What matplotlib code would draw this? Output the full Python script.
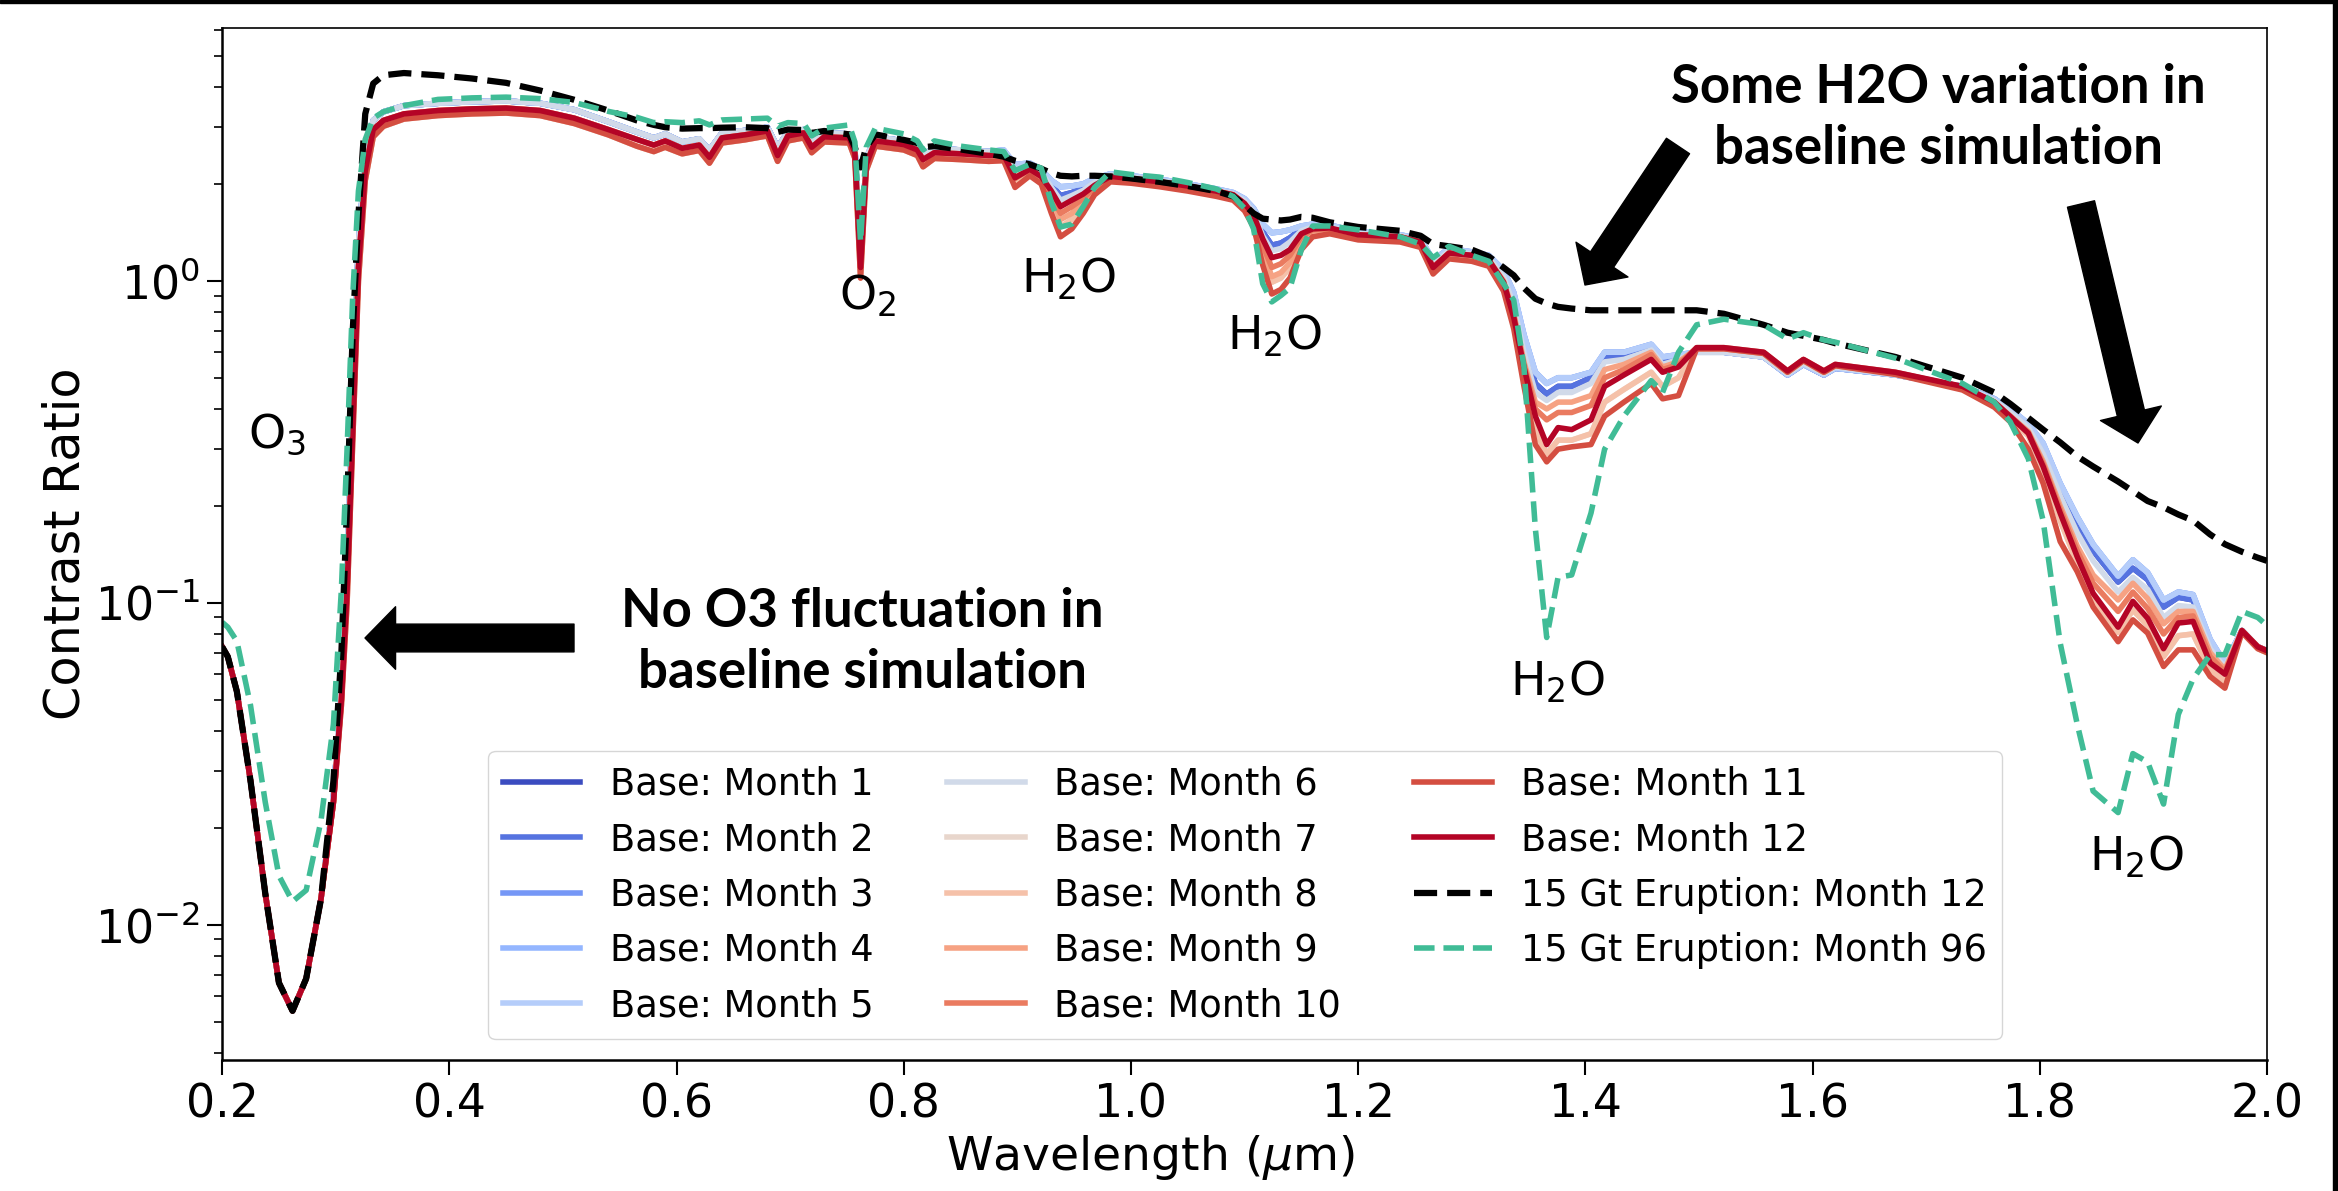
import numpy as np
import matplotlib
matplotlib.use("Agg")
import matplotlib.pyplot as plt
from matplotlib.patches import Rectangle

# wavelength grid (um): UV-visible part and near-IR part
wl_vis = [0.200, 0.205, 0.213, 0.225, 0.238, 0.250, 0.262, 0.274, 0.287, 0.298,
          0.305, 0.310, 0.315, 0.320, 0.326, 0.333, 0.342, 0.360, 0.390, 0.420,
          0.450, 0.480, 0.510, 0.540, 0.565, 0.580, 0.590, 0.605, 0.620, 0.629,
          0.640, 0.660, 0.680, 0.689, 0.698, 0.712, 0.719, 0.730, 0.752, 0.757,
          0.762, 0.767, 0.775, 0.800, 0.812, 0.817, 0.827, 0.850, 0.875]
wl_nir = [0.888, 0.898, 0.911, 0.921, 0.930, 0.938, 0.948, 0.958, 0.968, 0.982,
          1.000, 1.025, 1.050, 1.075, 1.090, 1.100, 1.108, 1.116, 1.124, 1.132,
          1.140, 1.150, 1.160, 1.175, 1.200, 1.237, 1.255, 1.266, 1.280, 1.300,
          1.315, 1.328, 1.337, 1.346, 1.356, 1.366, 1.376, 1.388, 1.405, 1.417,
          1.434, 1.458, 1.468, 1.482, 1.498, 1.522, 1.557, 1.578, 1.592, 1.610,
          1.620, 1.673, 1.732, 1.760, 1.774, 1.790, 1.803, 1.818, 1.833, 1.847,
          1.869, 1.882, 1.895, 1.909, 1.922, 1.935, 1.950, 1.963, 1.978, 1.992,
          2.000]

# baseline months, UV-visible (months overlap closely here)
vis_cool = [0.073, 0.068, 0.053, 0.028, 0.0125, 0.0066, 0.0054, 0.0068, 0.012, 0.025,
            0.055, 0.13, 0.45, 1.3, 2.4, 3.15, 3.35, 3.5, 3.56, 3.6,
            3.62, 3.56, 3.4, 3.12, 2.9, 2.78, 2.86, 2.7, 2.76, 2.55,
            2.88, 2.93, 3.0, 2.6, 2.9, 2.95, 2.72, 2.88, 2.86, 2.6,
            1.2, 2.4, 2.8, 2.72, 2.62, 2.48, 2.58, 2.55, 2.52]
vis_mid = [0.073, 0.068, 0.053, 0.028, 0.0125, 0.0066, 0.0054, 0.0068, 0.012, 0.024,
           0.05, 0.11, 0.35, 1.1, 2.2, 2.95, 3.15, 3.3, 3.38, 3.42,
           3.44, 3.38, 3.2, 2.95, 2.75, 2.64, 2.72, 2.58, 2.64, 2.42,
           2.78, 2.84, 2.92, 2.45, 2.82, 2.88, 2.6, 2.8, 2.78, 2.5,
           1.1, 2.3, 2.72, 2.65, 2.55, 2.38, 2.5, 2.48, 2.45]
vis_low = [0.073, 0.068, 0.053, 0.028, 0.0125, 0.0066, 0.0054, 0.0068, 0.012, 0.024,
           0.048, 0.1, 0.32, 1.0, 2.05, 2.8, 3.02, 3.18, 3.26, 3.3,
           3.32, 3.26, 3.08, 2.84, 2.62, 2.52, 2.6, 2.48, 2.54, 2.32,
           2.68, 2.74, 2.82, 2.35, 2.72, 2.78, 2.5, 2.7, 2.68, 2.4,
           1.02, 2.2, 2.62, 2.55, 2.45, 2.26, 2.4, 2.38, 2.35]

# baseline months, near-IR (water bands differ month to month)
nir_m345 = [2.55, 2.3, 2.32, 2.22, 2.05, 1.96, 1.97, 2.0, 2.08, 2.15,
            2.12, 2.07, 2.0, 1.93, 1.88, 1.8, 1.68, 1.5, 1.41, 1.42,
            1.44, 1.48, 1.5, 1.49, 1.42, 1.39, 1.35, 1.16, 1.26, 1.23,
            1.2, 1.08, 0.92, 0.68, 0.52, 0.48, 0.5, 0.5, 0.52, 0.6,
            0.6, 0.635, 0.58, 0.59, 0.6, 0.6, 0.58, 0.51, 0.55, 0.51,
            0.535, 0.51, 0.47, 0.43, 0.4, 0.36, 0.313, 0.235, 0.185, 0.152,
            0.121, 0.136, 0.124, 0.102, 0.108, 0.106, 0.077, 0.065, 0.082, 0.073,
            0.071]
nir_m12 = [2.53, 2.26, 2.3, 2.19, 1.98, 1.84, 1.88, 1.94, 2.04, 2.14,
           2.11, 2.06, 1.99, 1.92, 1.87, 1.78, 1.65, 1.42, 1.29, 1.31,
           1.36, 1.45, 1.48, 1.48, 1.41, 1.38, 1.34, 1.14, 1.25, 1.22,
           1.19, 1.06, 0.88, 0.64, 0.48, 0.445, 0.47, 0.47, 0.5, 0.58,
           0.58, 0.62, 0.56, 0.58, 0.6, 0.6, 0.58, 0.51, 0.55, 0.51,
           0.535, 0.51, 0.47, 0.43, 0.395, 0.355, 0.3, 0.225, 0.175, 0.145,
           0.116, 0.128, 0.118, 0.097, 0.104, 0.102, 0.075, 0.064, 0.082, 0.073,
           0.071]
nir_month6 = [2.5, 2.22, 2.28, 2.17, 1.95, 1.78, 1.84, 1.91, 2.02, 2.13,
              2.1, 2.05, 1.98, 1.91, 1.86, 1.77, 1.63, 1.38, 1.24, 1.26,
              1.32, 1.43, 1.47, 1.47, 1.4, 1.38, 1.33, 1.12, 1.24, 1.21,
              1.18, 1.03, 0.84, 0.6, 0.45, 0.425, 0.45, 0.45, 0.48, 0.56,
              0.57, 0.61, 0.55, 0.57, 0.6, 0.6, 0.58, 0.515, 0.555, 0.515,
              0.54, 0.51, 0.47, 0.425, 0.39, 0.35, 0.29, 0.215, 0.165, 0.135,
              0.108, 0.12, 0.11, 0.09, 0.098, 0.097, 0.072, 0.063, 0.082, 0.073,
              0.071]
nir_month9 = [2.47, 2.1, 2.22, 2.1, 1.8, 1.55, 1.62, 1.76, 1.94, 2.1,
              2.08, 2.03, 1.97, 1.9, 1.85, 1.73, 1.57, 1.25, 1.03, 1.06,
              1.14, 1.34, 1.43, 1.45, 1.39, 1.37, 1.32, 1.1, 1.22, 1.2,
              1.16, 1.0, 0.79, 0.56, 0.42, 0.4, 0.42, 0.42, 0.44, 0.53,
              0.55, 0.6, 0.54, 0.56, 0.615, 0.615, 0.595, 0.52, 0.565, 0.52,
              0.545, 0.515, 0.465, 0.42, 0.38, 0.34, 0.275, 0.2, 0.15, 0.122,
              0.102, 0.115, 0.103, 0.086, 0.094, 0.094, 0.07, 0.062, 0.082, 0.073,
              0.071]
nir_month10 = [2.46, 2.08, 2.21, 2.1, 1.84, 1.62, 1.7, 1.8, 1.95, 2.1,
               2.08, 2.03, 1.97, 1.9, 1.85, 1.73, 1.58, 1.29, 1.1, 1.13,
               1.2, 1.37, 1.44, 1.45, 1.39, 1.37, 1.32, 1.1, 1.22, 1.2,
               1.16, 0.99, 0.78, 0.55, 0.4, 0.37, 0.39, 0.39, 0.41, 0.5,
               0.53, 0.59, 0.53, 0.55, 0.62, 0.62, 0.6, 0.525, 0.57, 0.525,
               0.55, 0.52, 0.468, 0.42, 0.38, 0.338, 0.27, 0.195, 0.145, 0.115,
               0.094, 0.108, 0.096, 0.08, 0.09, 0.091, 0.068, 0.061, 0.082, 0.073,
               0.071]
nir_month12 = [2.46, 2.09, 2.22, 2.11, 1.9, 1.7, 1.78, 1.86, 1.98, 2.11,
               2.08, 2.03, 1.97, 1.9, 1.85, 1.74, 1.6, 1.35, 1.18, 1.2,
               1.25, 1.4, 1.45, 1.46, 1.39, 1.37, 1.32, 1.1, 1.22, 1.2,
               1.16, 0.99, 0.77, 0.54, 0.38, 0.31, 0.35, 0.345, 0.37, 0.47,
               0.51, 0.57, 0.52, 0.54, 0.62, 0.62, 0.6, 0.525, 0.57, 0.525,
               0.55, 0.52, 0.47, 0.42, 0.379, 0.336, 0.265, 0.19, 0.139, 0.107,
               0.084, 0.101, 0.0895, 0.072, 0.0865, 0.0875, 0.065, 0.06, 0.082, 0.073,
               0.071]
nir_month78 = [2.4, 2.0, 2.16, 2.05, 1.72, 1.47, 1.55, 1.7, 1.9, 2.06,
               2.04, 1.99, 1.93, 1.86, 1.81, 1.69, 1.52, 1.2, 0.99, 1.02,
               1.1, 1.3, 1.4, 1.42, 1.36, 1.34, 1.29, 1.07, 1.19, 1.17,
               1.13, 0.96, 0.74, 0.5, 0.34, 0.29, 0.32, 0.32, 0.335, 0.42,
               0.46, 0.52, 0.47, 0.5, 0.615, 0.615, 0.595, 0.52, 0.565, 0.52,
               0.545, 0.515, 0.462, 0.412, 0.372, 0.33, 0.26, 0.18, 0.133, 0.103,
               0.081, 0.095, 0.085, 0.068, 0.079, 0.08, 0.062, 0.057, 0.081, 0.072,
               0.07]
nir_month11 = [2.36, 1.95, 2.12, 2.0, 1.62, 1.37, 1.45, 1.62, 1.85, 2.03,
               2.01, 1.96, 1.9, 1.83, 1.78, 1.65, 1.47, 1.12, 0.91, 0.94,
               1.02, 1.25, 1.37, 1.4, 1.34, 1.32, 1.27, 1.05, 1.17, 1.15,
               1.11, 0.93, 0.71, 0.47, 0.31, 0.274, 0.3, 0.305, 0.31, 0.38,
               0.42, 0.48, 0.43, 0.44, 0.615, 0.615, 0.595, 0.52, 0.565, 0.52,
               0.545, 0.512, 0.458, 0.405, 0.365, 0.3, 0.235, 0.155, 0.125, 0.097,
               0.0757, 0.0885, 0.0805, 0.0634, 0.0714, 0.0714, 0.059, 0.0543, 0.081, 0.072,
               0.07]

# 15 Gt eruption runs
erupt12_vis = [0.073, 0.068, 0.053, 0.028, 0.0125, 0.0066, 0.0054, 0.0068, 0.012, 0.028,
               0.07, 0.2, 0.7, 1.6, 3.3, 4.1, 4.35, 4.42, 4.35, 4.25,
               4.12, 3.9, 3.65, 3.38, 3.15, 3.05, 3.0, 2.97, 2.98, 2.98,
               2.99, 3.0, 2.98, 2.9, 2.95, 2.94, 2.88, 2.92, 2.85, 2.6,
               2.25, 2.6, 2.85, 2.74, 2.68, 2.6, 2.62, 2.56, 2.48]
erupt12_nir = [2.43, 2.36, 2.3, 2.23, 2.16, 2.12, 2.11, 2.12, 2.12, 2.11,
               2.08, 2.03, 1.97, 1.9, 1.83, 1.72, 1.62, 1.56, 1.55, 1.54,
               1.55, 1.58, 1.57, 1.52, 1.47, 1.43, 1.38, 1.3, 1.28, 1.25,
               1.19, 1.1, 1.04, 0.95, 0.88, 0.85, 0.83, 0.82, 0.81, 0.81,
               0.81, 0.81, 0.81, 0.81, 0.81, 0.79, 0.73, 0.69, 0.675, 0.655,
               0.64, 0.58, 0.5, 0.45, 0.415, 0.375, 0.345, 0.315, 0.285, 0.265,
               0.238, 0.222, 0.207, 0.198, 0.188, 0.18, 0.163, 0.152, 0.144, 0.138,
               0.135]
erupt96_vis = [0.087, 0.084, 0.076, 0.048, 0.024, 0.0142, 0.0118, 0.0128, 0.021, 0.042,
               0.11, 0.3, 0.9, 1.9, 2.75, 3.2, 3.35, 3.5, 3.66, 3.7,
               3.72, 3.68, 3.58, 3.36, 3.22, 3.1, 3.12, 3.1, 3.14, 3.05,
               3.16, 3.18, 3.2, 3.02, 3.1, 3.08, 2.82, 2.98, 3.05, 2.7,
               1.32, 2.6, 2.98, 2.86, 2.72, 2.55, 2.72, 2.62, 2.55]
erupt96_nir = [2.52, 2.2, 2.3, 2.24, 1.75, 1.47, 1.5, 1.7, 1.95, 2.18,
               2.14, 2.1, 2.02, 1.93, 1.83, 1.68, 1.45, 0.98, 0.86, 0.9,
               0.95, 1.25, 1.48, 1.48, 1.44, 1.37, 1.3, 1.18, 1.28, 1.2,
               1.15, 0.98, 0.87, 0.54, 0.17, 0.078, 0.12, 0.122, 0.19, 0.3,
               0.38, 0.49, 0.45, 0.6, 0.73, 0.76, 0.73, 0.66, 0.69, 0.655,
               0.645, 0.575, 0.48, 0.42, 0.365, 0.28, 0.18, 0.075, 0.042, 0.026,
               0.0223, 0.034, 0.032, 0.0237, 0.045, 0.058, 0.069, 0.069, 0.094, 0.09,
               0.085]

month_vis = [vis_cool, vis_cool, vis_cool, vis_cool, vis_cool, vis_cool,
             vis_low, vis_low, vis_mid, vis_mid, vis_low, vis_mid]
month_nir = [nir_m12, nir_m12, nir_m345, nir_m345, nir_m345, nir_month6,
             nir_month78, nir_month78, nir_month9, nir_month10, nir_month11, nir_month12]

xticks = [0.2, 0.4, 0.6, 0.8, 1.0, 1.2, 1.4, 1.6, 1.8, 2.0]

# feature labels (x, y in data units)
band_labels = ["O$_3$", "O$_2$", "H$_2$O", "H$_2$O", "H$_2$O", "H$_2$O"]
band_x = [0.2484, 0.7678, 0.9447, 1.126, 1.375, 1.885]
band_y = [0.303, 0.813, 0.918, 0.61, 0.0514, 0.0147]

fig, ax = plt.subplots(figsize=(23.38, 11.91), dpi=100)
fig.subplots_adjust(left=0.0950, right=0.9696, bottom=0.1100, top=0.9765)

wl = wl_vis + wl_nir
colors = plt.cm.coolwarm(np.linspace(0, 1, 12))
for i in range(12):
    ax.plot(wl, month_vis[i] + month_nir[i], color=colors[i], lw=4,
            label="Base: Month {}".format(i + 1))
ax.plot(wl, erupt12_vis + erupt12_nir, "--", color="black", lw=4.5,
        label="15 Gt Eruption: Month 12")
ax.plot(wl, erupt96_vis + erupt96_nir, "--", color="#40bc96", lw=4,
        label="15 Gt Eruption: Month 96")

ax.set_yscale("log")
ax.set_xlim(0.2, 2.0)
ax.set_ylim(3.8e-3, 6.1)
ax.set_xticks(xticks)
ax.set_xticklabels(["{:.1f}".format(t) for t in xticks])
ax.set_xlabel(r"Wavelength ($\mu$m)", fontsize=34, x=0.4543)
ax.set_ylabel("Contrast Ratio", fontsize=35.5)
ax.tick_params(axis="both", which="major", labelsize=33, length=11, width=1.5, pad=5)
ax.tick_params(axis="both", which="minor", length=6, width=1.2)
for s in ["left", "bottom"]:
    ax.spines[s].set_linewidth(1.8)
for s in ["top", "right"]:
    ax.spines[s].set_linewidth(1.2)

for lab, x, y in zip(band_labels, band_x, band_y):
    ax.text(x, y, lab, fontsize=34, ha="center", va="baseline")

ax.legend(ncol=3, fontsize=26.5, loc="lower right", bbox_to_anchor=(0.8704, 0.0203),
          borderaxespad=0, handlelength=2.1)

# call-out text and arrows (figure pixel coordinates, origin bottom left)
fig.text(862 / 2338, 1 - 642 / 1191, "No O3 fluctuation in\nbaseline simulation",
         fontsize=38, fontweight="bold", family="Lato", ha="center", va="center",
         linespacing=1.3)
fig.text(1938 / 2338, 1 - 118 / 1191, "Some H2O variation in\nbaseline simulation",
         fontsize=38, fontweight="bold", family="Lato", ha="center", va="center",
         linespacing=1.3)

arrows = [((574, 553), (365, 553)),
          ((1678, 1045), (1585, 906)),
          ((2081, 987), (2138, 748))]
for tail, tip in arrows:
    ax.annotate("", xy=tip, xytext=tail, xycoords="figure pixels",
                textcoords="figure pixels",
                arrowprops=dict(arrowstyle="simple,head_length=22,head_width=45,tail_width=20",
                                color="black", shrinkA=0, shrinkB=0, mutation_scale=1))

# frame edges of the original figure crop
fig.add_artist(Rectangle((0, 1 - 3 / 1191), 1, 3 / 1191, transform=fig.transFigure,
                         color="black"))
fig.add_artist(Rectangle((2333 / 2338, 0), 5 / 2338, 1, transform=fig.transFigure,
                         color="black"))

fig.savefig("out.png", dpi=100)
